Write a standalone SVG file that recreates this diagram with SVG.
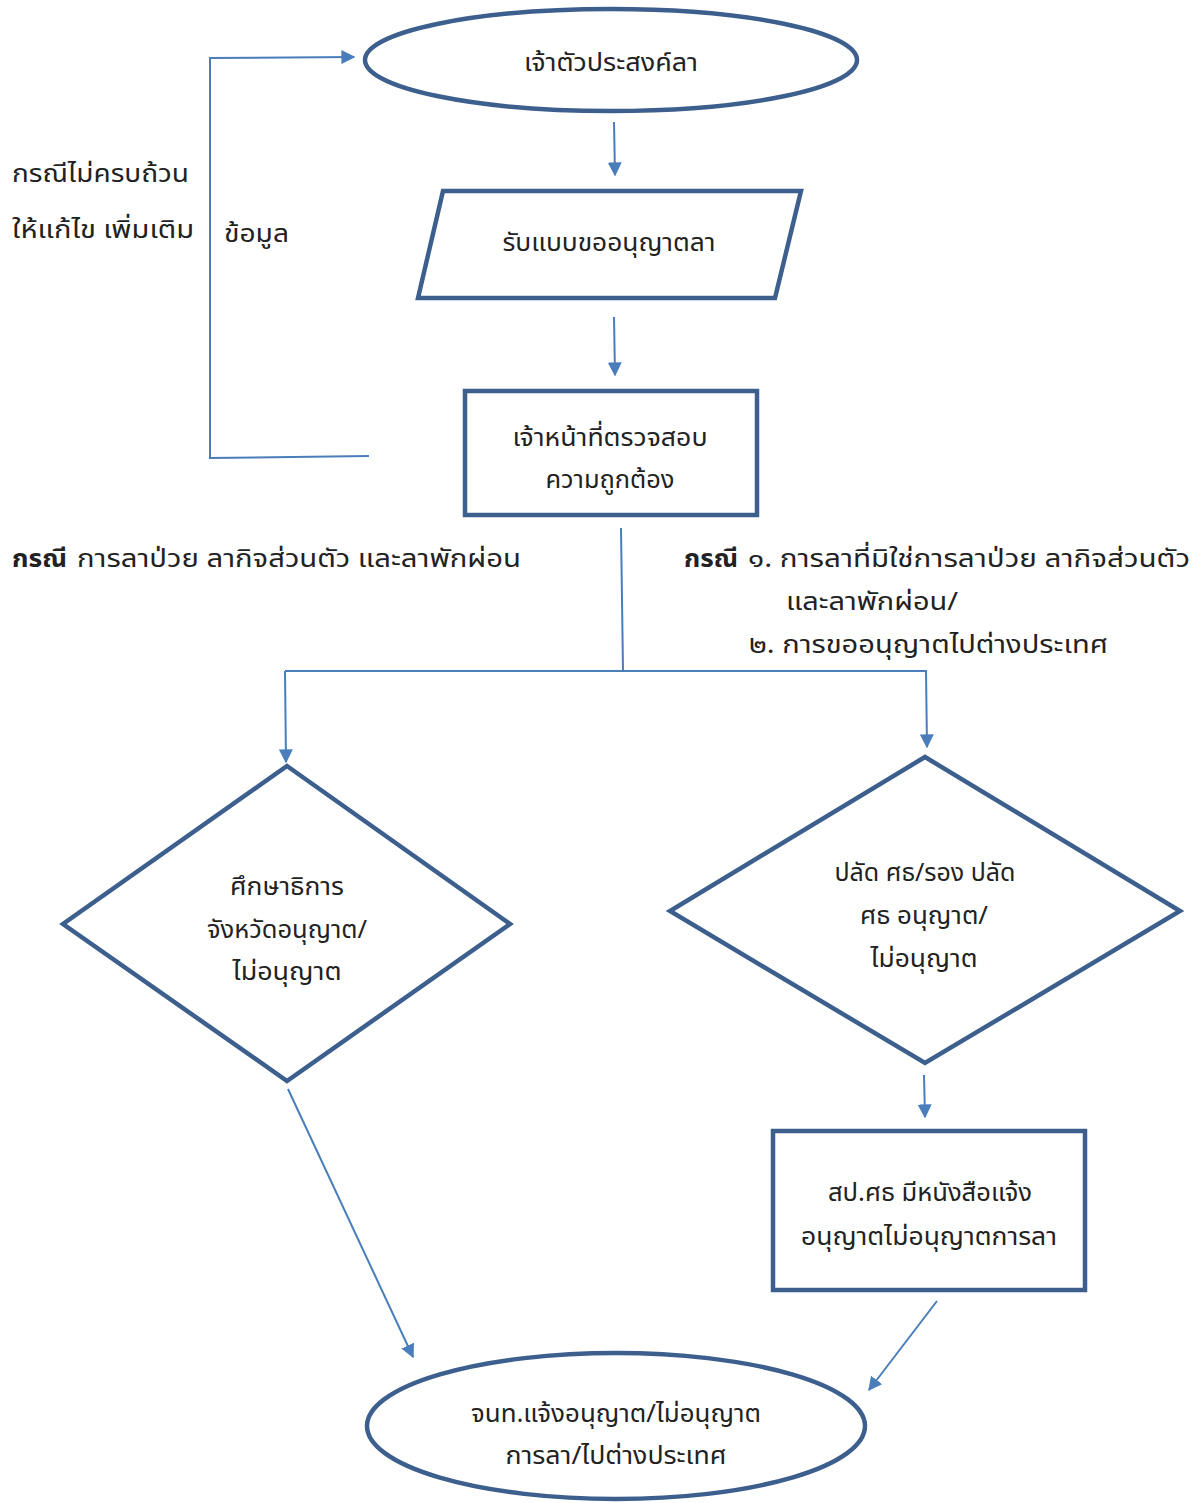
<svg xmlns="http://www.w3.org/2000/svg" width="1204" height="1503" viewBox="0 0 1204 1503">
<defs>
<style>
.node{fill:#fff;stroke:#3d5f8d;stroke-width:4.5}
.con{fill:none;stroke:#4a7ebb;stroke-width:2}
text{font-family:"Noto Sans Thai","Noto Sans","DejaVu Sans",sans-serif;font-size:25px;fill:#222}
.c{text-anchor:middle}
.b{font-weight:bold}
</style>
<marker id="ah" viewBox="0 0 10 10" refX="9" refY="5" markerWidth="7" markerHeight="7" markerUnits="userSpaceOnUse" orient="auto">
<path d="M0,0 L10,5 L0,10 z" fill="#4a7ebb"/>
</marker>
<marker id="ah2" viewBox="0 0 10 10" refX="9" refY="5" markerWidth="14" markerHeight="14" markerUnits="userSpaceOnUse" orient="auto">
<path d="M0,0 L10,5 L0,10 z" fill="#4a7ebb"/>
</marker>
</defs>
<rect width="1204" height="1503" fill="#fff"/>
<g id="connectors">
<path class="con" d="M614,122 L615,175" marker-end="url(#ah2)"/>
<path class="con" d="M614,317 L615,375" marker-end="url(#ah2)"/>
<path class="con" d="M369,456 L210,458 L210,58 L354,57" marker-end="url(#ah2)"/>
<path class="con" d="M621,528 L623,671"/>
<path class="con" d="M285,671 L927,671"/>
<path class="con" d="M285,671 L286,762" marker-end="url(#ah2)"/>
<path class="con" d="M926,671 L927,747" marker-end="url(#ah2)"/>
<path class="con" d="M924,1075 L925,1117" marker-end="url(#ah2)"/>
<path class="con" d="M288,1089 L413,1357" marker-end="url(#ah2)"/>
<path class="con" d="M937,1301 L869,1390" marker-end="url(#ah2)"/>
</g>
<g id="start">
<ellipse class="node" cx="611" cy="60" rx="246" ry="51"/>
<text class="c" x="611" y="71" textLength="174" lengthAdjust="spacingAndGlyphs">เจ้าตัวประสงค์ลา</text>
</g>
<g id="form">
<polygon class="node" points="443,191 801,191 775,298 418,298"/>
<text class="c" x="609" y="251" textLength="213" lengthAdjust="spacingAndGlyphs">รับแบบขออนุญาตลา</text>
</g>
<g id="check">
<rect class="node" x="465" y="391" width="292" height="124"/>
<text class="c" x="610" y="446" textLength="195" lengthAdjust="spacingAndGlyphs">เจ้าหน้าที่ตรวจสอบ</text>
<text class="c" x="610" y="488" textLength="129" lengthAdjust="spacingAndGlyphs">ความถูกต้อง</text>
</g>
<g id="label-feedback">
<text x="12" y="182" textLength="177" lengthAdjust="spacingAndGlyphs">กรณีไม่ครบถ้วน</text>
<text x="12" y="238" textLength="182" lengthAdjust="spacingAndGlyphs">ให้แก้ไข เพิ่มเติม</text>
<text x="224" y="242" textLength="65" lengthAdjust="spacingAndGlyphs">ข้อมูล</text>
</g>
<g id="label-left">
<text class="b" x="12" y="567" textLength="55" lengthAdjust="spacingAndGlyphs">กรณี</text>
<text x="77" y="567" textLength="444" lengthAdjust="spacingAndGlyphs">การลาป่วย ลากิจส่วนตัว และลาพักผ่อน</text>
</g>
<g id="label-right">
<text class="b" x="684" y="567" textLength="54" lengthAdjust="spacingAndGlyphs">กรณี</text>
<text x="748" y="567" textLength="442" lengthAdjust="spacingAndGlyphs">๑. การลาที่มิใช่การลาป่วย ลากิจส่วนตัว</text>
<text x="786" y="610" textLength="172" lengthAdjust="spacingAndGlyphs">และลาพักผ่อน/</text>
<text x="749" y="653" textLength="359" lengthAdjust="spacingAndGlyphs">๒. การขออนุญาตไปต่างประเทศ</text>
</g>
<g id="decision-left">
<polygon class="node" points="287,766 510,924 287,1081 63,924"/>
<text class="c" x="287" y="895" textLength="114" lengthAdjust="spacingAndGlyphs">ศึกษาธิการ</text>
<text class="c" x="287" y="938" textLength="160" lengthAdjust="spacingAndGlyphs">จังหวัดอนุญาต/</text>
<text class="c" x="287" y="980" textLength="109" lengthAdjust="spacingAndGlyphs">ไม่อนุญาต</text>
</g>
<g id="decision-right">
<polygon class="node" points="925,757 1180,911 925,1063 670,911"/>
<text class="c" x="925" y="881" textLength="181" lengthAdjust="spacingAndGlyphs">ปลัด ศธ/รอง ปลัด</text>
<text class="c" x="924" y="924" textLength="128" lengthAdjust="spacingAndGlyphs">ศธ อนุญาต/</text>
<text class="c" x="924" y="967" textLength="107" lengthAdjust="spacingAndGlyphs">ไม่อนุญาต</text>
</g>
<g id="office">
<rect class="node" x="773" y="1131" width="312" height="159"/>
<text class="c" x="930" y="1201" textLength="204" lengthAdjust="spacingAndGlyphs">สป.ศธ มีหนังสือแจ้ง</text>
<text class="c" x="929" y="1245" textLength="256" lengthAdjust="spacingAndGlyphs">อนุญาตไม่อนุญาตการลา</text>
</g>
<g id="end">
<ellipse class="node" cx="616" cy="1426" rx="249" ry="73"/>
<text class="c" x="616" y="1422" textLength="290" lengthAdjust="spacingAndGlyphs">จนท.แจ้งอนุญาต/ไม่อนุญาต</text>
<text class="c" x="616" y="1464" textLength="221" lengthAdjust="spacingAndGlyphs">การลา/ไปต่างประเทศ</text>
</g>
</svg>
